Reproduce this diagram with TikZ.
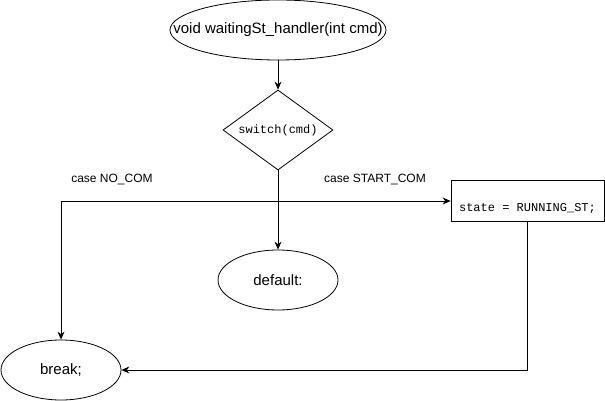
\documentclass[tikz,border=0pt]{standalone}
\usepackage{fontspec}
\setmainfont{Liberation Sans}
\setmonofont{Liberation Mono}
\usepackage{tikz}
\usetikzlibrary{arrows.meta}
\usetikzlibrary{shapes.geometric}
\usetikzlibrary{calc,positioning}

\begin{document}
\begin{tikzpicture}[>={Stealth[length=8pt,width=7pt]}, x=1pt, y=-1pt, line width=0.8pt,
	elipse/.style={ellipse, draw, inner sep=0pt, minimum width=120, minimum height=60, font=\fontsize{15}{18}\selectfont},
	losango/.style={diamond, draw, inner sep=1pt, shape aspect=1.375, minimum width=110, minimum height=80, font=\ttfamily\fontsize{12}{14}\selectfont},
	caixa/.style={rectangle, draw, minimum width=153, minimum height=41, text height=20pt, text depth=0pt, font=\ttfamily\fontsize{12}{14}\selectfont},
	rotulo/.style={font=\fontsize{12}{14}\selectfont}]

	% Área do desenho
	\useasboundingbox (0,0) rectangle (605,401);

	% Função e switch
	\node[elipse, minimum width=216] (handler) at (278,30) {\makebox[0pt]{void waitingSt\_handler(int cmd)}};
	\node[losango] (switch) at (278,130) {switch(cmd)};

	% Casos
	\node[elipse] (default) at (278,280) {default:};
	\node[caixa] (estado) at (527.5,201) {state = RUNNING\_ST;};
	\node[elipse] (brk) at (61,370) {break;};

	% Rótulos dos casos
	\node[rotulo] (lnocom) at (112,180) {case NO\_COM};
	\node[rotulo] (lstart) at (375,180) {case START\_COM};

	% Ligações
	\coordinate (esq) at (61,201);
	\draw[->] (handler) -- (switch);
	\draw[->] (switch) -- (default);
	\draw[->] (esq) -- (estado.west);
	\draw[->] (esq) -- (brk);
	\draw[->] (estado.south) |- (brk.east);

\end{tikzpicture}
\end{document}
